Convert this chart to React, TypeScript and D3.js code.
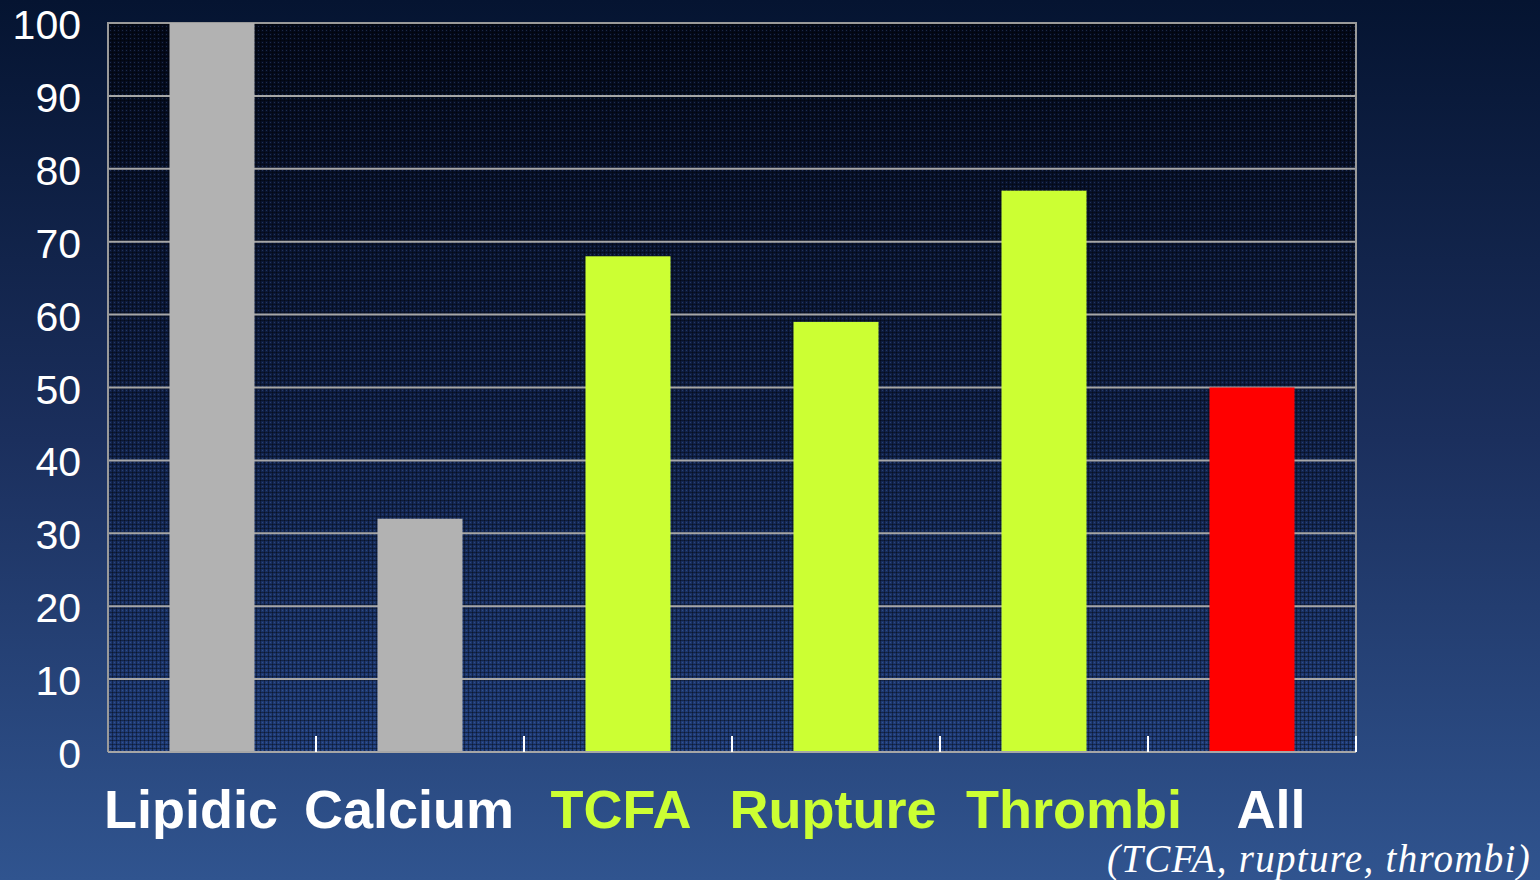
import React from "react";
import * as d3 from "d3";

// Share of plaques per category (%)
const categories = ["Lipidic", "Calcium", "TCFA", "Rupture", "Thrombi", "All"];
const values = [100, 32, 68, 59, 77, 50];
const barColors = ["#b2b2b2", "#b2b2b2", "#ccff33", "#ccff33", "#ccff33", "#ff0000"];
const labelColors = ["#ffffff", "#ffffff", "#ccff33", "#ccff33", "#ccff33", "#ffffff"];
const labelShift = [-21, -11, -7, -3, 30, 19];
const yTicks = [0, 10, 20, 30, 40, 50, 60, 70, 80, 90, 100];
const footnote = "(TCFA, rupture, thrombi)";

const W = 1540;
const H = 880;
const plot = { left: 108, right: 1356, top: 23, bottom: 752 };

export default function App() {
  const x = d3
    .scaleBand<string>()
    .domain(categories)
    .range([plot.left, plot.right])
    .paddingInner(0)
    .paddingOuter(0);
  const barW = 85;
  const y = d3.scaleLinear().domain([0, 100]).range([plot.bottom, plot.top]);
  const boundaries = categories.map((c) => (x(c) as number) + x.bandwidth());

  return (
    <div style={{ position: "fixed", left: 0, top: 0, width: W, height: H }}>
      <svg width={W} height={H} style={{ display: "block" }}>
        <defs>
          <linearGradient id="bg" x1="0" y1="0" x2="0" y2="1">
            <stop offset="0" stopColor="#051431" />
            <stop offset="0.5" stopColor="#1b2f5d" />
            <stop offset="1" stopColor="#30548f" />
          </linearGradient>
          <linearGradient id="plotBg" x1="0" y1="0" x2="0" y2="1">
            <stop offset="0" stopColor="#03091a" />
            <stop offset="0.5" stopColor="#0f1f45" />
            <stop offset="1" stopColor="#213f7c" />
          </linearGradient>
          <pattern id="mesh" width="4" height="4" patternUnits="userSpaceOnUse">
            <rect x="0" y="0" width="1" height="4" fill="#000000" opacity="0.35" />
            <rect x="0" y="0" width="4" height="1" fill="#000000" opacity="0.35" />
            <rect x="2" y="2" width="1" height="1" fill="#6f8fd0" opacity="0.25" />
          </pattern>
        </defs>

        <rect x={0} y={0} width={W} height={H} fill="url(#bg)" />

        {/* plot area */}
        <rect
          x={plot.left}
          y={plot.top}
          width={plot.right - plot.left}
          height={plot.bottom - plot.top}
          fill="url(#plotBg)"
        />
        <rect
          x={plot.left}
          y={plot.top}
          width={plot.right - plot.left}
          height={plot.bottom - plot.top}
          fill="url(#mesh)"
        />

        {/* gridlines */}
        {yTicks
          .filter((t) => t > 0)
          .map((t) => (
            <line
              key={t}
              x1={plot.left}
              x2={plot.right}
              y1={y(t)}
              y2={y(t)}
              stroke="#a6a6a6"
              strokeWidth={2}
            />
          ))}

        {/* frame */}
        <path
          d={`M${plot.left},${plot.bottom}V${plot.top}H${plot.right}V${plot.bottom}`}
          fill="none"
          stroke="#9a9a9a"
          strokeWidth={2}
        />

        {/* bars */}
        {categories.map((c, i) => {
          const cx = (x(c) as number) + x.bandwidth() / 2;
          return (
            <rect
              key={c}
              x={cx - barW / 2}
              y={y(values[i])}
              width={barW}
              height={y(0) - y(values[i])}
              fill={barColors[i]}
            />
          );
        })}

        {/* x axis */}
        <line
          x1={plot.left}
          x2={plot.right}
          y1={plot.bottom}
          y2={plot.bottom}
          stroke="#a6a6a6"
          strokeWidth={2}
        />
        {boundaries.map((b, i) => (
          <line
            key={i}
            x1={b}
            x2={b}
            y1={plot.bottom}
            y2={plot.bottom - 16}
            stroke="#ffffff"
            strokeWidth={2}
          />
        ))}

        {/* y tick labels */}
        {yTicks.map((t) => (
          <text
            key={t}
            x={81}
            y={y(t) + 16}
            textAnchor="end"
            fill="#ffffff"
            fontFamily="'Liberation Sans', Arial, sans-serif"
            fontSize={41}
          >
            {t}
          </text>
        ))}

        {/* category labels */}
        {categories.map((c, i) => (
          <text
            key={c}
            x={(x(c) as number) + x.bandwidth() / 2 + labelShift[i]}
            y={828}
            textAnchor="middle"
            fill={labelColors[i]}
            fontFamily="'Liberation Sans', Arial, sans-serif"
            fontWeight="bold"
            fontSize={54}
          >
            {c}
          </text>
        ))}

        <text
          x={1531}
          y={872}
          textAnchor="end"
          fill="#ffffff"
          fontFamily="'Liberation Serif', 'Times New Roman', serif"
          fontStyle="italic"
          fontSize={39}
          letterSpacing={1.3}
        >
          {footnote}
        </text>
      </svg>
    </div>
  );
}
